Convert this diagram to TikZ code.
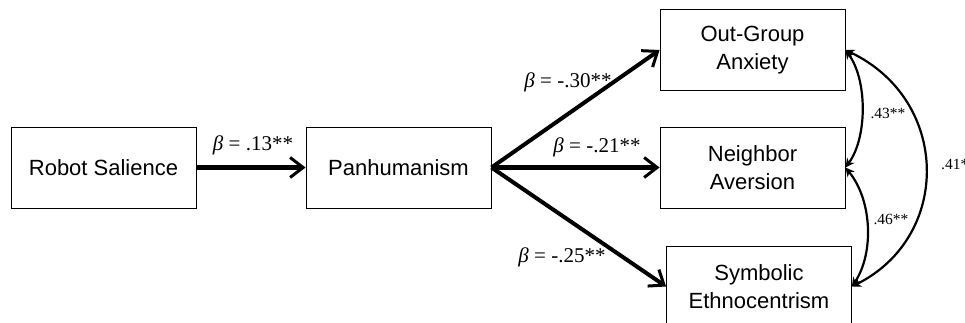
\documentclass[tikz,border=0pt]{standalone}
\usepackage{fontspec}
\setmainfont{Liberation Serif}
\newfontfamily\boxfont{Liberation Sans}
\usetikzlibrary{arrows.meta}
\tikzset{
  varbox/.style={draw, line width=0.9pt, minimum width=185pt, minimum height=81pt, align=center,
    font=\boxfont\fontsize{22}{28}\selectfont},
  patharrow/.style={line width=4pt, -{Straight Barb[length=13pt,width=20pt,line width=3pt]}},
  corr/.style={line width=2.2pt, {Stealth[length=9pt,width=9pt]}-{Stealth[length=9pt,width=9pt]}},
  blabel/.style={font=\fontsize{21}{24}\selectfont},
  clabel/.style={font=\fontsize{15.5}{18}\selectfont},
}
\begin{document}
\begin{tikzpicture}[x=1pt,y=-1pt]
\useasboundingbox (0,0) rectangle (965,323);
\node[varbox] (rob) at (103.5,167.5) {Robot Salience};
\node[varbox] (pan) at (398.5,167.5) {Panhumanism};
\node[varbox] (oga) at (752.5,50) {Out-Group\\Anxiety};
\node[varbox] (nav) at (752.5,167.5) {Neighbor\\Aversion};
\node[varbox] (sym) at (759,286.5) {Symbolic\\Ethnocentrism};
\draw[patharrow] (rob) -- (pan);
\draw[patharrow] (pan.east) -- (oga.west);
\draw[patharrow] (pan.east) -- (nav.west);
\draw[patharrow] (pan.east) -- (sym.west);
\node[blabel] (l1) at (253,145) {{\itshape β} = .13**};
\node[blabel] (l2) at (568,82) {{\itshape β} = -.30**};
\node[blabel] (l3) at (597,147) {{\itshape β} = -.21**};
\node[blabel] (l4) at (562,257) {{\itshape β} = -.25**};
\draw[corr] (oga.east) .. controls +(22,30) and +(22,-30) .. (nav.east);
\draw[corr] (nav.east) .. controls +(27,33) and +(22,-33) .. (sym.east);
\draw[corr] (oga.east) .. controls +(105,50) and +(100,-50) .. (sym.east);
\node[clabel] (c1) at (888,113) {.43**};
\node[clabel] (c2) at (891,219) {.46**};
\node[clabel, anchor=west, inner sep=0pt] (c3) at (941,164) {.41**};
\end{tikzpicture}
\end{document}
